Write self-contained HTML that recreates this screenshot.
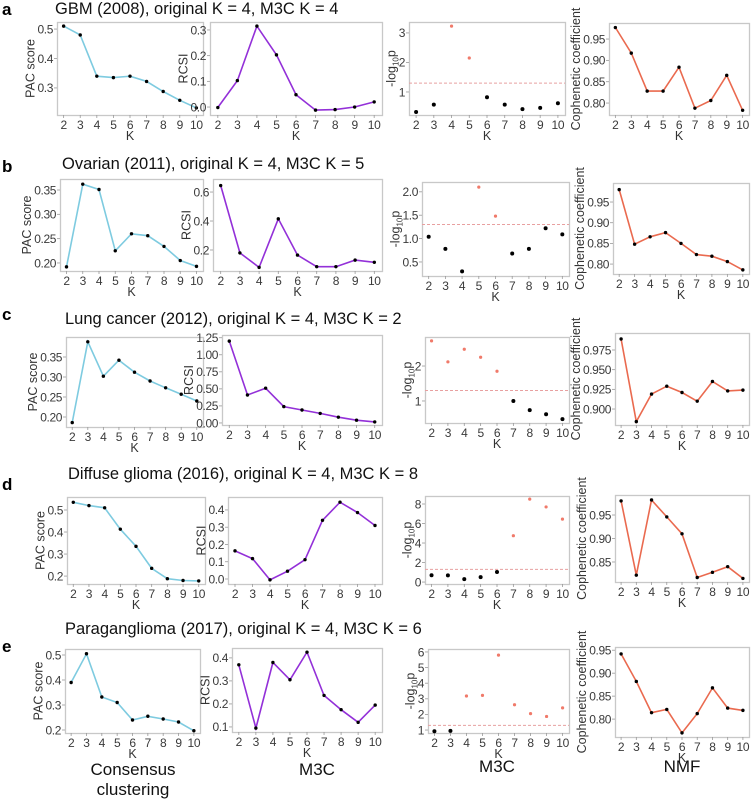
<!DOCTYPE html>
<html><head><meta charset="utf-8">
<style>
html,body{margin:0;padding:0;background:#fff;}
svg{display:block;font-family:"Liberation Sans",Arial,sans-serif;}
</style></head>
<body>
<svg id="fig" width="754" height="801" viewBox="0 0 754 801" xmlns="http://www.w3.org/2000/svg"></svg>
<script>
// ---- data ----
const ks = [2,3,4,5,6,7,8,9,10];
const xTicks = ['2','3','4','5','6','7','8','9','10'];
const pacA  = [0.51,0.48,0.34,0.335,0.34,0.322,0.288,0.258,0.232];
const rcsiA = [-0.002,0.103,0.315,0.203,0.048,-0.012,-0.01,0.0,0.02];
const pvalA = [0.32,0.57,3.23,2.15,0.82,0.57,0.42,0.46,0.62];
const cophA = [0.977,0.917,0.828,0.828,0.884,0.788,0.806,0.865,0.783];
const pacB  = [0.192,0.362,0.351,0.225,0.260,0.256,0.234,0.205,0.193];
const rcsiB = [0.645,0.18,0.08,0.415,0.165,0.085,0.085,0.13,0.115];
const pvalB = [1.04,0.78,0.3,2.1,1.48,0.68,0.78,1.22,1.09];
const cophB = [0.98,0.848,0.866,0.876,0.85,0.823,0.819,0.806,0.786];
const pacC  = [0.186,0.388,0.302,0.342,0.312,0.290,0.273,0.257,0.240];
const rcsiC = [1.2,0.41,0.51,0.24,0.19,0.14,0.085,0.04,0.015];
const pvalC = [2.72,2.12,2.48,2.25,1.85,1.0,0.74,0.62,0.48];
const cophC = [0.989,0.884,0.919,0.929,0.921,0.910,0.935,0.923,0.924];
const pacD  = [0.535,0.52,0.51,0.413,0.335,0.235,0.188,0.18,0.178];
const rcsiD = [0.163,0.118,-0.005,0.045,0.112,0.34,0.445,0.385,0.31];
const pvalD = [0.7,0.68,0.3,0.5,1.03,4.75,8.5,7.7,6.45];
const cophD = [0.98,0.822,0.982,0.946,0.91,0.817,0.828,0.840,0.815];
const pacE  = [0.39,0.505,0.332,0.31,0.24,0.255,0.244,0.232,0.197];
const rcsiE = [0.37,0.095,0.38,0.305,0.425,0.237,0.175,0.12,0.195];
const pvalE = [0.92,0.95,3.18,3.22,5.8,2.62,2.05,1.87,2.42];
const cophE = [0.942,0.882,0.814,0.821,0.770,0.812,0.868,0.824,0.819];
const sigThreshold = 1.3;
const rowTitles = ['GBM (2008), original K = 4, M3C K = 4','Ovarian (2011), original K = 4, M3C K = 5','Lung cancer (2012), original K = 4, M3C K = 2','Diffuse glioma (2016), original K = 4, M3C K = 8','Paraganglioma (2017), original K = 4, M3C K = 6'];
const rowLetters = ['a','b','c','d','e'];
const ticksPacA=['0.3','0.4','0.5'], ticksRcsiA=['0.0','0.1','0.2','0.3'], ticksPvalA=['1','2','3'], ticksCophA=['0.80','0.85','0.90','0.95'];
const ticksPacB=['0.20','0.25','0.30','0.35'], ticksRcsiB=['0.2','0.4','0.6'], ticksPvalB=['0.5','1.0','1.5','2.0'], ticksCophB=['0.80','0.85','0.90','0.95'];
const ticksPacC=['0.20','0.25','0.30','0.35'], ticksRcsiC=['0.00','0.25','0.50','0.75','1.00','1.25'], ticksPvalC=['1','2'], ticksCophC=['0.900','0.925','0.950','0.975'];
const ticksPacD=['0.2','0.3','0.4','0.5'], ticksRcsiD=['0.0','0.1','0.2','0.3','0.4'], ticksPvalD=['0','2','4','6','8'], ticksCophD=['0.85','0.90','0.95'];
const ticksPacE=['0.2','0.3','0.4','0.5'], ticksRcsiE=['0.1','0.2','0.3','0.4'], ticksPvalE=['1','2','3','4','5','6'], ticksCophE=['0.80','0.85','0.90','0.95'];

// ---- layout (pixel geometry, not data) ----
const NS='http://www.w3.org/2000/svg';
const svg=document.getElementById('fig');
function mk(tag,attrs,parent){const e=document.createElementNS(NS,tag);for(const k in attrs)e.setAttribute(k,attrs[k]);(parent||svg).appendChild(e);return e;}
const COLORS={pac:'#7ecbe0',rcsi:'#9330d8',coph:'#ea6a4f'};
const panels=[
 {r:0,kind:'pac',vals:pacA,ticks:ticksPacA,box:[57,22,203,115],dom:[0.208,0.524]},
 {r:0,kind:'rcsi',vals:rcsiA,ticks:ticksRcsiA,box:[210,22,382,115],dom:[-0.031,0.331]},
 {r:0,kind:'pval',vals:pvalA,ticks:ticksPvalA,box:[409,22,565,115],dom:[0.22,3.37]},
 {r:0,kind:'coph',vals:cophA,ticks:ticksCophA,box:[609,23,749,115],dom:[0.772,0.9876]},
 {r:1,kind:'pac',vals:pacB,ticks:ticksPacB,box:[60,179,203,271],dom:[0.1835,0.3726]},
 {r:1,kind:'rcsi',vals:rcsiB,ticks:ticksRcsiB,box:[213,179,382,271],dom:[0.055,0.69]},
 {r:1,kind:'pval',vals:pvalB,ticks:ticksPvalB,box:[422,182,569,276],dom:[0.20,2.21]},
 {r:1,kind:'coph',vals:cophB,ticks:ticksCophB,box:[613,183,749,274],dom:[0.776,0.996]},
 {r:2,kind:'pac',vals:pacC,ticks:ticksPacC,box:[66,337,203,427],dom:[0.175,0.40]},
 {r:2,kind:'rcsi',vals:rcsiC,ticks:ticksRcsiC,box:[222,335,382,425],dom:[-0.03,1.29]},
 {r:2,kind:'pval',vals:pvalC,ticks:ticksPvalC,box:[425,337,569,423],dom:[0.37,2.83]},
 {r:2,kind:'coph',vals:cophC,ticks:ticksCophC,box:[615,333,749,425],dom:[0.8797,0.9966]},
 {r:3,kind:'pac',vals:pacD,ticks:ticksPacD,box:[67,497,205,584],dom:[0.164,0.559]},
 {r:3,kind:'rcsi',vals:rcsiD,ticks:ticksRcsiD,box:[228,497,382,584],dom:[-0.029,0.475]},
 {r:3,kind:'pval',vals:pvalD,ticks:ticksPvalD,box:[425,496,569,584],dom:[-0.2,8.82]},
 {r:3,kind:'coph',vals:cophD,ticks:ticksCophD,box:[615,495,749,582],dom:[0.8074,0.9926]},
 {r:4,kind:'pac',vals:pacE,ticks:ticksPacE,box:[65,649,200,733],dom:[0.188,0.524]},
 {r:4,kind:'rcsi',vals:rcsiE,ticks:ticksRcsiE,box:[232,648,382,732],dom:[0.078,0.443]},
 {r:4,kind:'pval',vals:pvalE,ticks:ticksPvalE,box:[428,649,569,733],dom:[0.81,6.19]},
 {r:4,kind:'coph',vals:cophE,ticks:ticksCophE,box:[615,647,749,737],dom:[0.761,0.957]}
];
const titlePos=[[55,14],[62,169],[65,324],[68,479],[65,634]];
const letterPos=[[2,15],[2,172],[2,320],[2,490],[2,652]];
const TF=12;
function tickW(t){let w=0;for(const c of t){w+=(c==='.'?3.3:6.7)-0.4;}return w;}

rowTitles.forEach((t,i)=>{
  const tt=mk('text',{x:titlePos[i][0],y:titlePos[i][1],'font-size':'16.5',fill:'#111'});
  tt.textContent=t;
  
  
  const l=mk('text',{x:letterPos[i][0],y:letterPos[i][1],'font-size':'17','font-weight':'bold',fill:'#000'});
  l.textContent=rowLetters[i];
  
  
});

panels.forEach((p)=>{
  const [x0,y0,x1,y1]=p.box;
  const g=mk('g',{});
  
  
  const kmin=ks[0],kmax=ks[ks.length-1],pad=(kmax-kmin)*0.05;
  const xs=k=>x0+(k-(kmin-pad))/((kmax-kmin)+2*pad)*(x1-x0);
  const ys=v=>y1-(v-p.dom[0])/(p.dom[1]-p.dom[0])*(y1-y0);
  const frame=mk('rect',{x:x0+0.5,y:y0+0.5,width:x1-x0,height:y1-y0,fill:'#fff',stroke:'#c8c8c8','stroke-width':1.3},g);
  
  
  let maxW=0;
  p.ticks.forEach(t=>{
    const y=ys(parseFloat(t));
    mk('line',{x1:x0-3,x2:x0,y1:y,y2:y,stroke:'#999','stroke-width':0.8},g);
    const tx=mk('text',{x:x0-4,y:y+4.3,'font-size':TF,'letter-spacing':'-0.4','text-anchor':'end',fill:'#3a3a3a'},g);
    tx.textContent=t;
    
    
    maxW=Math.max(maxW,tickW(t));
  });
  ks.forEach((k,i)=>{
    const x=xs(k);
    mk('line',{x1:x,x2:x,y1:y1,y2:y1+3,stroke:'#999','stroke-width':0.8},g);
    const tx=mk('text',{x:x,y:y1+14,'font-size':TF,'letter-spacing':'-0.3','text-anchor':'middle',fill:'#3a3a3a'},g);
    tx.textContent=xTicks[i];
    
    
  });
  const xl=mk('text',{x:(x0+x1)/2,y:y1+25,'font-size':'12.5','text-anchor':'middle',fill:'#333'},g);
  xl.textContent='K';
  
  
  const yx=x0-4-maxW-3, ym=(y0+y1)/2;
  const yl=mk('text',{x:yx,y:ym,'font-size':'12.5','text-anchor':'middle',fill:'#333',transform:'rotate(-90 '+yx+' '+ym+')'},g);
  
  
  if(p.kind==='pval'){
    yl.appendChild(document.createTextNode('-log'));
    const s=mk('tspan',{'font-size':'8',dy:'3'},yl);s.textContent='10';
    const s2=mk('tspan',{dy:'-3'},yl);s2.textContent='p';
  } else {
    yl.textContent={pac:'PAC score',rcsi:'RCSI',coph:'Cophenetic coefficient'}[p.kind];
  }
  if(p.kind==='pval'){
    const d=mk('line',{x1:x0,x2:x1,y1:ys(sigThreshold),y2:ys(sigThreshold),stroke:'#e8a0a0','stroke-width':1,'stroke-dasharray':'3,2'},g);
    
    
    p.vals.forEach((v,i)=>{
      const sig=v>sigThreshold;
      const c=mk('circle',{cx:xs(ks[i]),cy:ys(v),r:sig?1.6:2,fill:sig?'#f07a6a':'#000'},g);
      
      
    });
  } else {
    const pts=p.vals.map((v,i)=>xs(ks[i]).toFixed(1)+','+ys(v).toFixed(1)).join(' ');
    const pl=mk('polyline',{points:pts,fill:'none',stroke:COLORS[p.kind],'stroke-width':1.6},g);
    
    
    p.vals.forEach((v,i)=>{
      const c=mk('circle',{cx:xs(ks[i]),cy:ys(v),r:1.7,fill:'#000'},g);
      
      
    });
  }
});

const bottom=[['Consensus',133,775],['clustering',133,795],['M3C',317,775],['M3C',497,772],['NMF',682,772]];
bottom.forEach(b=>{
  const t=mk('text',{x:b[1],y:b[2],'font-size':'17','text-anchor':'middle',fill:'#111'});
  t.textContent=b[0];
  
  
});
</script>
</body></html>
